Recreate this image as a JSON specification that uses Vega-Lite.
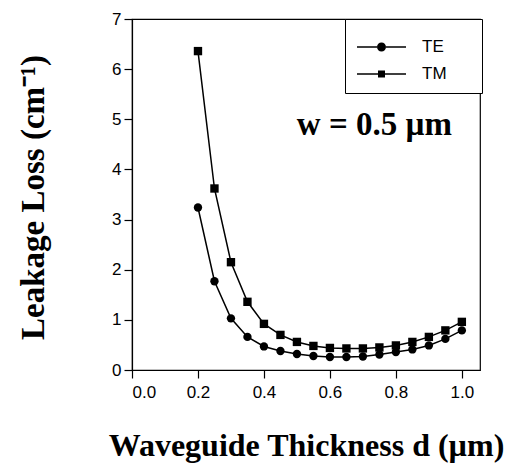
{
  "$schema": "https://vega.github.io/schema/vega-lite/v6.json",
  "autosize": "none",
  "width": 348,
  "height": 351,
  "padding": {"left": 132, "top": 19, "right": 28, "bottom": 104},
  "background": "white",
  "config": {
    "view": {"stroke": "black", "strokeWidth": 1.2},
    "axis": {
      "grid": false,
      "domainColor": "black",
      "tickColor": "black",
      "labelColor": "black",
      "titleColor": "black",
      "labelFont": "Liberation Sans",
      "labelFontSize": 17,
      "titleFont": "Liberation Serif",
      "titleFontWeight": "bold",
      "tickSize": 8,
      "tickWidth": 1.2,
      "domainWidth": 1.2
    }
  },
  "data": {
    "values": [
      {"d": 0.20, "loss": 3.24, "mode": "TE"},
      {"d": 0.25, "loss": 1.77, "mode": "TE"},
      {"d": 0.30, "loss": 1.03, "mode": "TE"},
      {"d": 0.35, "loss": 0.66, "mode": "TE"},
      {"d": 0.40, "loss": 0.47, "mode": "TE"},
      {"d": 0.45, "loss": 0.38, "mode": "TE"},
      {"d": 0.50, "loss": 0.32, "mode": "TE"},
      {"d": 0.55, "loss": 0.28, "mode": "TE"},
      {"d": 0.60, "loss": 0.26, "mode": "TE"},
      {"d": 0.65, "loss": 0.26, "mode": "TE"},
      {"d": 0.70, "loss": 0.27, "mode": "TE"},
      {"d": 0.75, "loss": 0.31, "mode": "TE"},
      {"d": 0.80, "loss": 0.36, "mode": "TE"},
      {"d": 0.85, "loss": 0.41, "mode": "TE"},
      {"d": 0.90, "loss": 0.49, "mode": "TE"},
      {"d": 0.95, "loss": 0.62, "mode": "TE"},
      {"d": 1.00, "loss": 0.79, "mode": "TE"},
      {"d": 0.20, "loss": 6.36, "mode": "TM"},
      {"d": 0.25, "loss": 3.62, "mode": "TM"},
      {"d": 0.30, "loss": 2.15, "mode": "TM"},
      {"d": 0.35, "loss": 1.36, "mode": "TM"},
      {"d": 0.40, "loss": 0.92, "mode": "TM"},
      {"d": 0.45, "loss": 0.70, "mode": "TM"},
      {"d": 0.50, "loss": 0.56, "mode": "TM"},
      {"d": 0.55, "loss": 0.48, "mode": "TM"},
      {"d": 0.60, "loss": 0.44, "mode": "TM"},
      {"d": 0.65, "loss": 0.43, "mode": "TM"},
      {"d": 0.70, "loss": 0.43, "mode": "TM"},
      {"d": 0.75, "loss": 0.45, "mode": "TM"},
      {"d": 0.80, "loss": 0.49, "mode": "TM"},
      {"d": 0.85, "loss": 0.56, "mode": "TM"},
      {"d": 0.90, "loss": 0.66, "mode": "TM"},
      {"d": 0.95, "loss": 0.79, "mode": "TM"},
      {"d": 1.00, "loss": 0.96, "mode": "TM"}
    ]
  },
  "encoding": {
    "x": {
      "field": "d",
      "type": "quantitative",
      "scale": {"domain": [0, 1.055], "nice": false, "zero": false},
      "axis": {
        "values": [0, 0.2, 0.4, 0.6, 0.8, 1.0],
        "format": ".1f",
        "labelPadding": 6,
        "title": "Waveguide Thickness d (µm)",
        "titleFontSize": 32,
        "titleBaseline": "alphabetic",
        "titleY": 85,
        "titleX": 174
      }
    },
    "y": {
      "field": "loss",
      "type": "quantitative",
      "scale": {"domain": [0, 7], "nice": false},
      "axis": {
        "values": [0, 1, 2, 3, 4, 5, 6, 7],
        "labelPadding": 3,
        "title": "Leakage Loss (cm⁻¹)",
        "titleFontSize": 33,
        "titleBaseline": "alphabetic",
        "titleAlign": "center",
        "titleAngle": -90,
        "titleX": -89,
        "titleY": 178
      }
    }
  },
  "layer": [
    {
      "mark": {"type": "line", "color": "black", "strokeWidth": 1.5},
      "encoding": {"detail": {"field": "mode"}}
    },
    {
      "transform": [{"filter": "datum.mode === 'TE'"}],
      "mark": {"type": "point", "shape": "circle", "filled": true, "color": "black", "opacity": 1, "size": 70}
    },
    {
      "transform": [{"filter": "datum.mode === 'TM'"}],
      "mark": {"type": "point", "shape": "square", "filled": true, "color": "black", "opacity": 1, "size": 70}
    },
    {
      "mark": {"type": "point", "filled": true, "color": "black", "opacity": 0},
      "encoding": {
        "shape": {
          "field": "mode",
          "type": "nominal",
          "scale": {
            "domain": ["TE", "TM"],
            "range": [
              "M-1,-0.075H1V0.075H-1ZM1.9,-0.075H3.9V0.075H1.9ZM1,0A0.45,0.45 0 1,1 1.9,0A0.45,0.45 0 1,1 1,0Z",
              "M-1,-0.075H1.1V0.075H-1ZM1.8,-0.075H3.9V0.075H1.8ZM1.1,-0.35H1.8V0.35H1.1Z"
            ]
          },
          "legend": {
            "title": "\u00a0",
            "titleFontSize": 3,
            "titlePadding": 3,
            "orient": "none",
            "legendX": 213,
            "legendY": 0,
            "strokeColor": "black",
            "fillColor": "white",
            "padding": 11,
            "symbolSize": 400,
            "symbolFillColor": "black",
            "symbolOpacity": 1,
            "labelFont": "Liberation Sans",
            "labelFontSize": 17,
            "labelColor": "black",
            "labelOffset": 44,
            "rowPadding": 8,
            "labelExpr": "datum.label + '\u00a0\u00a0\u00a0\u00a0\u00a0\u200b'"
          }
        }
      }
    },
    {
      "transform": [{"filter": "datum.mode === 'TE' && datum.d === 1"}],
      "mark": {"type": "text", "font": "Liberation Serif", "fontWeight": "bold", "fontSize": 33, "align": "right", "baseline": "alphabetic", "color": "black"},
      "encoding": {
        "x": {"datum": 0.97},
        "y": {"datum": 4.69},
        "text": {"value": "w = 0.5 µm"}
      }
    }
  ]
}
